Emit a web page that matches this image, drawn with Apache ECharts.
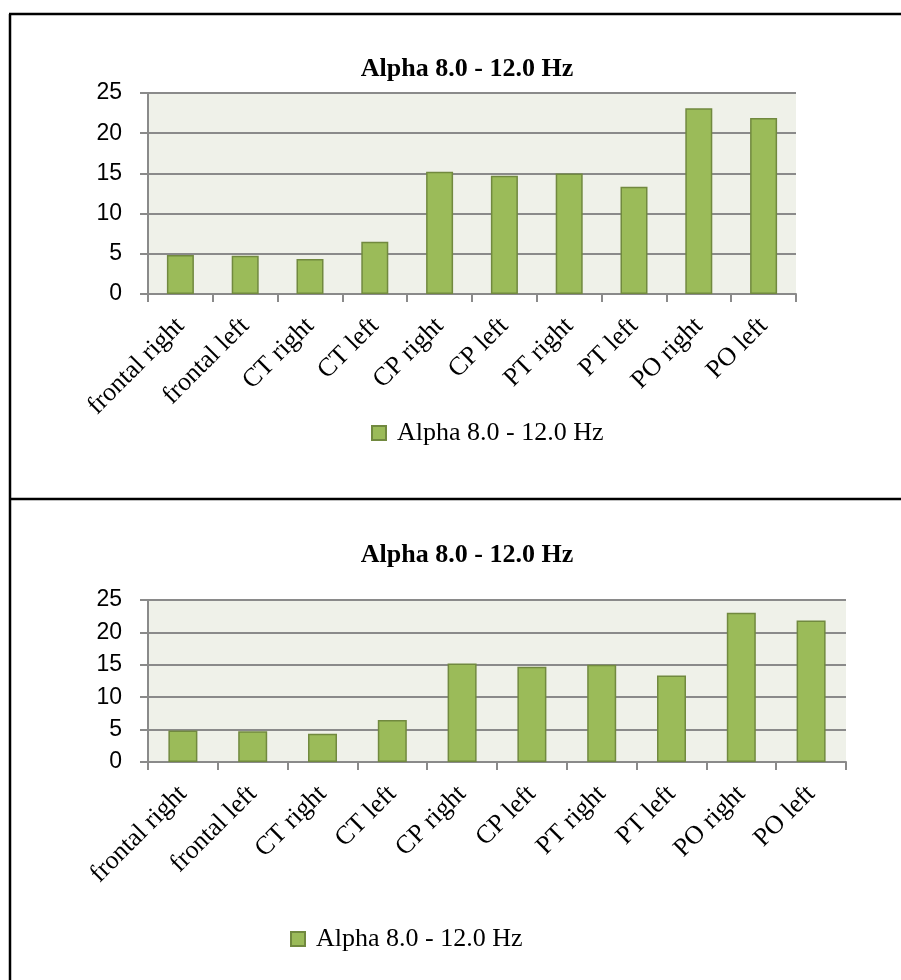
<!DOCTYPE html>
<html>
<head>
<meta charset="utf-8">
<script src="https://cdn.jsdelivr.net/npm/echarts@6/dist/echarts.min.js"></script>
<style>
html,body{margin:0;padding:0;background:#fff;}
#main{width:901px;height:980px;}
</style>
</head>
<body>
<div id="main"></div>
<script>
// ---- data ----
const categories = ['frontal right','frontal left','CT right','CT left','CP right','CP left','PT right','PT left','PO right','PO left'];
const alphaTop = [4.85, 4.75, 4.35, 6.5, 15.2, 14.7, 15.0, 13.35, 23.1, 21.9];
const alphaBottom = [4.85, 4.75, 4.35, 6.5, 15.2, 14.7, 15.0, 13.35, 23.05, 21.85];
const yTicks = [0, 5, 10, 15, 20, 25];
const seriesName = 'Alpha 8.0 - 12.0 Hz';
const chartTitle = 'Alpha 8.0 - 12.0 Hz';

// ---- styles ----
const serif = '"Liberation Serif","Times New Roman",serif';
const sans = '"Liberation Sans",Arial,sans-serif';
const gridGray = '#8a8a8a';
const plotBg = '#eff1e9';
const barFill = '#9bbb59';
const barBorder = '#71893f';

function yAxis(gridIndex){
  return {
    type:'value', gridIndex,
    min: yTicks[0], max: yTicks[yTicks.length-1], interval: yTicks[1]-yTicks[0],
    axisLine:{show:true, lineStyle:{color:gridGray, width:2}},
    axisTick:{show:true, length:8, lineStyle:{color:gridGray, width:2}},
    axisLabel:{color:'#000', fontFamily:sans, fontSize:23, margin:26},
    splitLine:{show:true, lineStyle:{color:gridGray, width:2}}
  };
}
function xAxis(gridIndex){
  return {
    type:'category', gridIndex, data:categories,
    axisLine:{show:true, lineStyle:{color:gridGray, width:2}},
    axisTick:{show:true, length:8, alignWithLabel:false, lineStyle:{color:gridGray, width:2}},
    axisLabel:{color:'#000', fontFamily:serif, fontSize:26, rotate:45, margin:28, interval:0},
    splitLine:{show:false}
  };
}
const legendText = {fontFamily:serif, fontSize:26, color:'#000', padding:[0,0,0,6]};

const chart = echarts.init(document.getElementById('main'));
chart.setOption({
  animation:false,
  backgroundColor:'#fff',
  title:[
    {text:chartTitle, left:462, top:51, textAlign:'center',
     textStyle:{fontFamily:serif, fontWeight:'bold', fontSize:26, color:'#000'}},
    {text:chartTitle, left:462, top:537, textAlign:'center',
     textStyle:{fontFamily:serif, fontWeight:'bold', fontSize:26, color:'#000'}}
  ],
  legend:[
    {data:[seriesName], left:366, top:415, icon:'rect', itemWidth:14, itemHeight:14, itemGap:10,
     textStyle:legendText},
    {data:[seriesName], left:285, top:921, icon:'rect', itemWidth:14, itemHeight:14, itemGap:10,
     textStyle:legendText}
  ],
  grid:[
    {left:148, right:105, top:93, bottom:686, show:true, backgroundColor:plotBg, borderWidth:0},
    {left:148, right:55, top:600, bottom:218, show:true, backgroundColor:plotBg, borderWidth:0}
  ],
  xAxis:[xAxis(0), xAxis(1)],
  yAxis:[yAxis(0), yAxis(1)],
  series:[
    {type:'bar', name:seriesName, xAxisIndex:0, yAxisIndex:0, data:alphaTop, barWidth:27,
     itemStyle:{color:barFill, borderColor:barBorder, borderWidth:1.5}},
    {type:'bar', name:seriesName, xAxisIndex:1, yAxisIndex:1, data:alphaBottom, barWidth:29,
     itemStyle:{color:barFill, borderColor:barBorder, borderWidth:1.5}}
  ],
  graphic:[
    {type:'line', shape:{x1:10, y1:14, x2:10, y2:980}, style:{stroke:'#000', lineWidth:2.5}},
    {type:'line', shape:{x1:9, y1:14, x2:901, y2:14}, style:{stroke:'#000', lineWidth:2.5}},
    {type:'line', shape:{x1:9, y1:499, x2:901, y2:499}, style:{stroke:'#000', lineWidth:2.5}}
  ]
});
</script>
</body>
</html>
